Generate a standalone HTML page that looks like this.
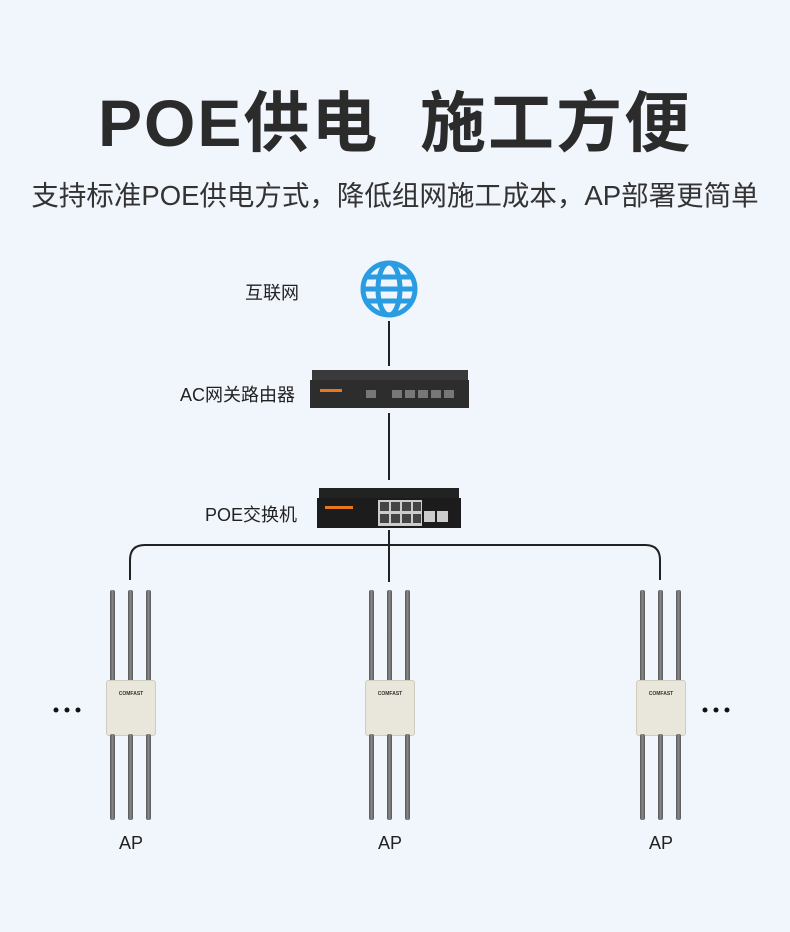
<!DOCTYPE html>
<html><head><meta charset="utf-8"><style>
body{margin:0;width:790px;height:932px;background:#f1f5fc;font-family:"Liberation Sans","Noto Sans CJK SC",sans-serif;overflow:hidden;position:relative}
.t{position:absolute;left:0;width:790px;text-align:center;color:#2b2b2b;white-space:nowrap}
.l{position:absolute;font-size:18px;color:#222;white-space:nowrap}
.ap{position:absolute;width:60px;height:240px}
.ant{position:absolute;width:5px;background:linear-gradient(90deg,#555,#8a8a8a,#555);border-radius:2px}
.body{position:absolute;left:6px;top:90px;width:48px;height:54px;background:#e9e7dc;border:1px solid #cfcbbd;border-radius:3px;font-size:5px;font-weight:bold;text-align:center;line-height:26px;color:#333}
</style></head><body>
<div class="t" style="top:70px;font-size:66px;font-weight:bold;letter-spacing:2px">POE供电&nbsp;&nbsp;施工方便</div>
<div class="t" style="top:173px;font-size:27.5px;color:#333">支持标准POE供电方式，降低组网施工成本，AP部署更简单</div>
<div class="l" style="left:245px;top:279px">互联网</div>
<div class="l" style="left:180px;top:381px">AC网关路由器</div>
<div class="l" style="left:205px;top:501px">POE交换机</div>
<svg width="790" height="932" style="position:absolute;left:0;top:0">
<g stroke="#2a9ce2" stroke-width="5" fill="none">
<circle cx="389" cy="289" r="26"/>
<ellipse cx="389" cy="289" rx="11" ry="26"/>
<line x1="363" y1="289" x2="415" y2="289"/>
<line x1="367" y1="277" x2="411" y2="277"/>
<line x1="367" y1="301" x2="411" y2="301"/>
</g>
<g stroke="#222" stroke-width="2" fill="none">
<line x1="389" y1="321" x2="389" y2="366"/>
<line x1="389" y1="413" x2="389" y2="480"/>
<line x1="389" y1="530" x2="389" y2="582"/>
<path d="M130 580 V560 Q130 545 145 545 H645 Q660 545 660 560 V580"/>
</g>
<rect x="312" y="370" width="156" height="10" fill="#3a3a3a"/>
<rect x="310" y="380" width="159" height="28" fill="#2d2d2d"/>
<rect x="320" y="389" width="22" height="3" fill="#e87820"/>
<g fill="#777"><rect x="366" y="390" width="10" height="8"/><rect x="392" y="390" width="10" height="8"/><rect x="405" y="390" width="10" height="8"/><rect x="418" y="390" width="10" height="8"/><rect x="431" y="390" width="10" height="8"/><rect x="444" y="390" width="10" height="8"/></g>
<rect x="319" y="488" width="140" height="10" fill="#222"/>
<rect x="317" y="498" width="144" height="30" fill="#1c1c1c"/>
<rect x="325" y="506" width="28" height="3" fill="#e87820"/>
<rect x="378" y="500" width="44" height="26" fill="#ccc"/>
<g fill="#444"><rect x="380" y="502" width="9" height="9"/><rect x="391" y="502" width="9" height="9"/><rect x="402" y="502" width="9" height="9"/><rect x="413" y="502" width="8" height="9"/><rect x="380" y="514" width="9" height="9"/><rect x="391" y="514" width="9" height="9"/><rect x="402" y="514" width="9" height="9"/><rect x="413" y="514" width="8" height="9"/></g>
<rect x="424" y="511" width="11" height="11" fill="#ccc"/><rect x="437" y="511" width="11" height="11" fill="#ccc"/>
<g fill="#111"><circle cx="56" cy="710" r="2.5"/><circle cx="67" cy="710" r="2.5"/><circle cx="78" cy="710" r="2.5"/><circle cx="705" cy="710" r="2.5"/><circle cx="716" cy="710" r="2.5"/><circle cx="727" cy="710" r="2.5"/></g>
</svg>
<div class="ap" style="left:100px;top:590px"><div class="ant" style="left:10px;top:0;height:92px"></div><div class="ant" style="left:28px;top:0;height:92px"></div><div class="ant" style="left:46px;top:0;height:92px"></div><div class="body">COMFAST</div><div class="ant" style="left:10px;top:144px;height:86px"></div><div class="ant" style="left:28px;top:144px;height:86px"></div><div class="ant" style="left:46px;top:144px;height:86px"></div></div>
<div class="ap" style="left:359px;top:590px"><div class="ant" style="left:10px;top:0;height:92px"></div><div class="ant" style="left:28px;top:0;height:92px"></div><div class="ant" style="left:46px;top:0;height:92px"></div><div class="body">COMFAST</div><div class="ant" style="left:10px;top:144px;height:86px"></div><div class="ant" style="left:28px;top:144px;height:86px"></div><div class="ant" style="left:46px;top:144px;height:86px"></div></div>
<div class="ap" style="left:630px;top:590px"><div class="ant" style="left:10px;top:0;height:92px"></div><div class="ant" style="left:28px;top:0;height:92px"></div><div class="ant" style="left:46px;top:0;height:92px"></div><div class="body">COMFAST</div><div class="ant" style="left:10px;top:144px;height:86px"></div><div class="ant" style="left:28px;top:144px;height:86px"></div><div class="ant" style="left:46px;top:144px;height:86px"></div></div>
<div class="l" style="left:119px;top:833px">AP</div>
<div class="l" style="left:378px;top:833px">AP</div>
<div class="l" style="left:649px;top:833px">AP</div>
</body></html>
